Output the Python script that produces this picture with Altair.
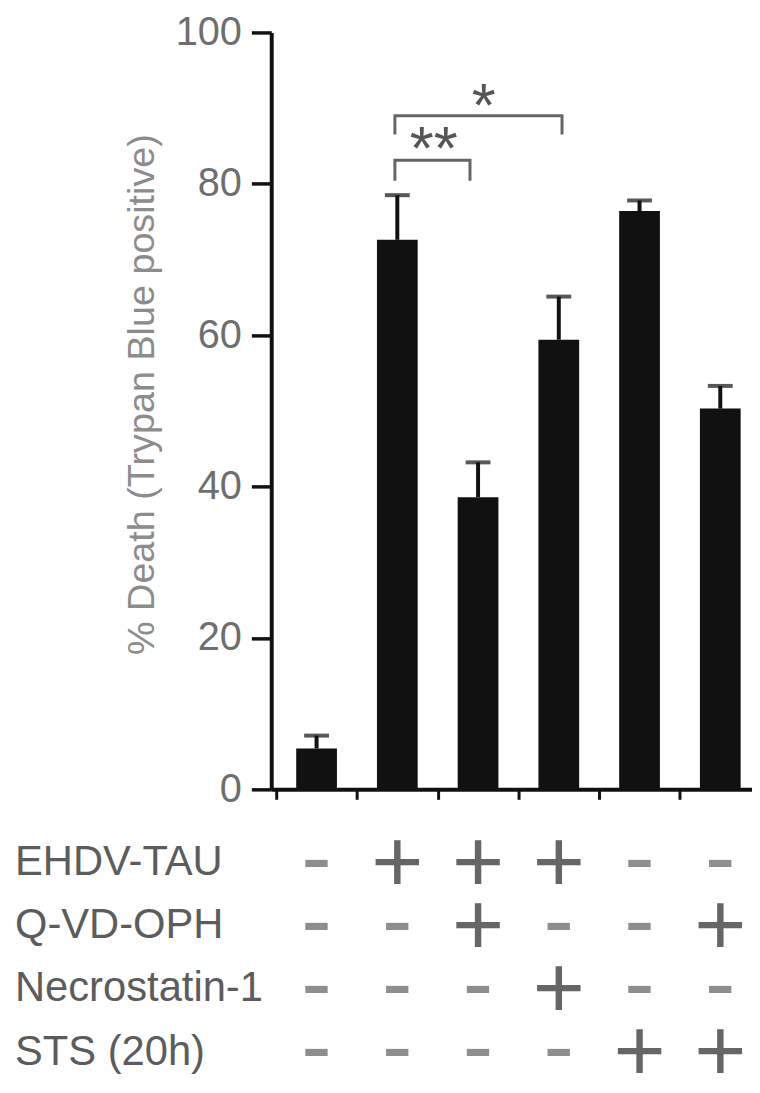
import altair as alt
import pandas as pd

# ---- data ----
groups = [0, 1, 2, 3, 4, 5]
means = [5.4, 72.6, 38.6, 59.4, 76.4, 50.3]
errors = [1.7, 5.9, 4.6, 5.7, 1.4, 3.0]

conditions = ["EHDV-TAU", "Q-VD-OPH", "Necrostatin-1", "STS (20h)"]
sign_rows = [
    ["-", "+", "+", "+", "-", "-"],
    ["-", "-", "+", "-", "-", "+"],
    ["-", "-", "-", "+", "-", "-"],
    ["-", "-", "-", "-", "+", "+"],
]

bracket_left = [0.97, 0.97]
bracket_right = [1.90, 3.04]
bracket_top = [83.1, 89.0]
bracket_leg = [80.4, 86.5]

star_labels = ["**", "*"]
star_x = [1.45, 2.07]
star_y = [86.0, 91.7]

y_ticks = [0, 20, 40, 60, 80, 100]
x_ticks = [-0.5, 0.5, 1.5, 2.5, 3.5, 4.5]

# ---- tables ----
bar_df = pd.DataFrame({"group": groups, "mean": means,
                       "top": [m + e for m, e in zip(means, errors)]})

table_df = pd.DataFrame([
    {"row": i, "condition": c, "group": g, "sign": s}
    for i, (c, row) in enumerate(zip(conditions, sign_rows))
    for g, s in zip(groups, row)
])
label_df = pd.DataFrame({"row": list(range(len(conditions))), "condition": conditions})

br_rows = []
for b in range(len(bracket_left)):
    pts = [(bracket_left[b], bracket_leg[b]), (bracket_left[b], bracket_top[b]),
           (bracket_right[b], bracket_top[b]), (bracket_right[b], bracket_leg[b])]
    for k, (px, py) in enumerate(pts):
        br_rows.append({"bracket": b, "order": k, "group": px, "val": py})
br_df = pd.DataFrame(br_rows)

star_df = pd.DataFrame({"label": star_labels, "group": star_x, "val": star_y})

# ---- styling ----
FONT = "Liberation Sans"
W, H = 484, 762
xscale = alt.Scale(domain=[-0.5, -0.5 + W / 83.0], nice=False, zero=False)
yscale = alt.Scale(domain=[0, 100], nice=False, zero=True)
YTITLE = "% Death (Trypan Blue positive)"

xaxis = alt.Axis(values=x_ticks, labels=False, tickSize=10, tickWidth=3,
                 domainWidth=4, domainColor="#111", tickColor="#111",
                 grid=False, title=None)
yaxis = alt.Axis(values=y_ticks, tickSize=20, tickWidth=3.5, domainWidth=4,
                 domainColor="#111", tickColor="#111", grid=False,
                 labelFont=FONT, labelFontSize=40, labelPadding=10,
                 labelColor="#6e6e6e", titleFont=FONT, titleFontSize=38,
                 titleFontWeight="normal", titleColor="#8c8c8c",
                 titlePadding=14, titleY=364)

def X(field="group"):
    return alt.X(f"{field}:Q", scale=xscale, axis=xaxis, title=None)

def Y(field):
    return alt.Y(f"{field}:Q", scale=yscale, axis=yaxis, title=YTITLE)

bars = alt.Chart(bar_df).mark_bar(color="#111", width=41, orient="vertical").encode(
    x=X(), y=Y("mean"))
err_rule = alt.Chart(bar_df).mark_rule(color="#111", strokeWidth=4).encode(
    x=X(), y=Y("mean"), y2="top:Q")
err_cap = alt.Chart(bar_df).mark_tick(color="#111", orient="horizontal",
                                      size=25, thickness=4).encode(
    x=X(), y=Y("top"))
brackets = alt.Chart(br_df).mark_line(color="#666", strokeWidth=3,
                                      strokeJoin="miter").encode(
    x=X(), y=Y("val"), detail="bracket:N", order="order:Q")
stars = alt.Chart(star_df).mark_text(font=FONT, fontSize=62, color="#555",
                                     baseline="alphabetic", dy=31).encode(
    x=X(), y=Y("val"), text="label:N")

main = alt.layer(bars, err_rule, err_cap, brackets, stars)

rowscale = alt.Scale(domain=[0, 1, 2, 3], range=[834, 1025], padding=0)
RY = alt.Y("row:O", scale=rowscale, axis=None, title=None)

plus = alt.Chart(table_df).transform_filter(alt.datum.sign == "+").mark_text(
    font=FONT, fontSize=90, color="#666666", baseline="middle", dy=4).encode(
    x=X(), y=RY, text="sign:N")
minus = alt.Chart(table_df).transform_filter(alt.datum.sign == "-").mark_text(
    font=FONT, fontSize=92, color="#8e8e8e", baseline="middle", dy=-1).encode(
    x=X(), y=RY, text="sign:N")
labels = alt.Chart(label_df).mark_text(
    font=FONT, fontSize=42, color="#5c5c5c", align="left", baseline="middle",
    dy=1).encode(x=alt.value(15 - 273), y=RY, text="condition:N")

table = alt.layer(plus, minus, labels)

chart = alt.layer(main, table).resolve_scale(y="independent").properties(
    width=W, height=H,
    autosize=alt.AutoSizeParams(type="none"),
    padding={"left": 265, "top": 21, "right": 0, "bottom": 289},
).configure_view(stroke=None)

chart.save("out.html", embed_options={"renderer": "svg", "actions": False})
